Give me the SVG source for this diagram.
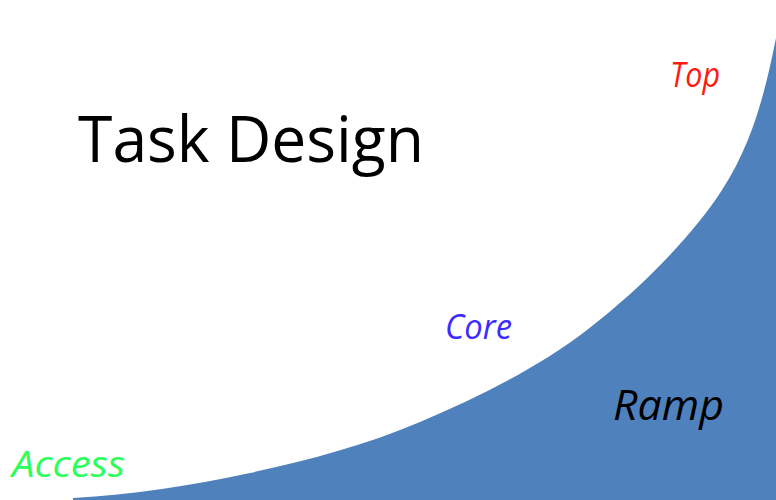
<svg xmlns="http://www.w3.org/2000/svg" width="776" height="500" viewBox="0 0 776 500">
  <style>
    .lbl { font-family: "Open Sans", "Liberation Sans", sans-serif; font-style: italic; }
    .title { font-family: "Open Sans", "Liberation Sans", sans-serif; font-size: 64px; fill: #000000; }
  </style>
  <rect x="0" y="0" width="776" height="500" fill="#ffffff"/>

  <!-- rising difficulty curve, filled to the bottom edge -->
  <g id="ramp-area">
    <path d="M73,498 C132,494.7 192.2,485.7 250,473 C307.8,460.3 363.8,445.8 420,422 C476.2,398.2 536.7,368.7 587,330 C637.3,291.3 690.5,238.7 722,190 C753.5,141.3 766,88 776,38 L776,500 L73,500 Z" fill="#4f81bd"/>
  </g>

  <g id="title">
    <text class="title" x="78" y="162" textLength="346" lengthAdjust="spacingAndGlyphs">Task Design</text>
  </g>
  <g id="top">
    <text class="lbl" x="670" y="87" font-size="34" fill="#ff1a0f" textLength="50" lengthAdjust="spacingAndGlyphs">Top</text>
  </g>
  <g id="core">
    <text class="lbl" x="445" y="339" font-size="34" fill="#3b2bff" textLength="67" lengthAdjust="spacingAndGlyphs">Core</text>
  </g>
  <g id="ramp">
    <text class="lbl" x="613" y="420" font-size="42" fill="#000000" textLength="111" lengthAdjust="spacingAndGlyphs">Ramp</text>
  </g>
  <g id="access">
    <text class="lbl" x="12" y="477" font-size="36" fill="#2bff5a" textLength="113" lengthAdjust="spacingAndGlyphs">Access</text>
  </g>
</svg>
